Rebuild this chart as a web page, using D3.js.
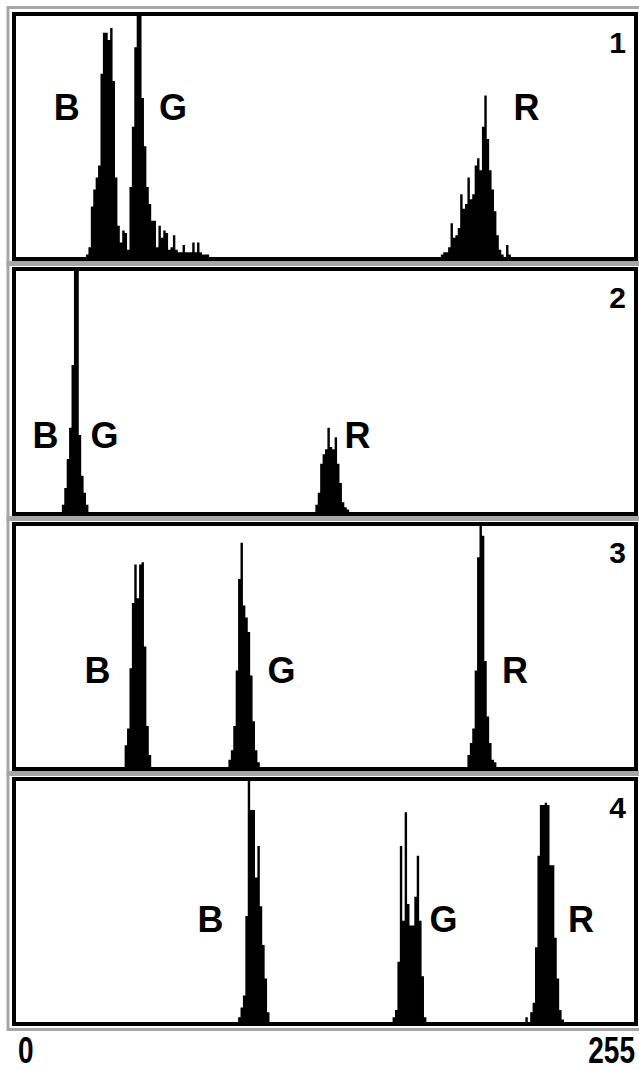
<!DOCTYPE html>
<html>
<head>
<meta charset="utf-8">
<script src="https://cdn.jsdelivr.net/npm/d3@7"></script>
<style>
body{margin:0;background:#fff;}
text{font-family:"Liberation Sans",Arial,sans-serif;font-weight:bold;fill:#000;}
</style>
</head>
<body>
<script>
// panel names
const panelNames=["1","2","3","4"];
// histogram counts (percent of panel height), first value is the start bin
const p1B=[29,[1,4,21,28,33,38,76,93,93,90,95,73,33,13,6,11,10,3,3]];
const p1G=[47,[29,54,87,110,110,66,46,29,22,15,15,4,13,8,11,10,3,4,9,3,2,2,5,2,2,2,6,2,6,2,1,1,1]];
const p1R=[176,[1,2,2,4,14,8,9,12,26,20,22,33,24,26,38,41,36,54,67,49,36,28,19,9,3,1,0,5,1]];
const p2BG=[19,[3,10,22,35,61,110,110,32,15,8,3]];
const p2R=[124,[3,8,20,24,26,35,27,26,31,20,12,4,2,1]];
const p3B=[45,[9,16,41,68,84,70,84,85,50,17,5]];
const p3G=[88,[3,7,17,40,78,93,67,62,56,38,19,7,2]];
const p3R=[187,[5,10,16,40,87,110,96,44,21,10,3,2]];
const p4B=[92,[2,6,11,44,110,88,88,60,73,48,32,18,4]];
const p4G=[156,[2,5,25,73,42,87,49,40,40,52,69,42,19,2]];
const p4R=[211,[2,0,4,8,31,69,90,90,91,90,65,65,35,18,5,1]];
const hists=[[p1B,p1G,p1R],[p2BG,p2R],[p3B,p3G,p3R],[p4B,p4G,p4R]];
// channel labels: [text, bin, level]
const labels=[
  [["B",21,57],["G",65,57],["R",211.5,57]],
  [["B",12.2,26.5],["G",36.7,26.5],["R",141.5,26.5]],
  [["B",33.8,35],["G",110,35],["R",206.7,35]],
  [["B",80.6,37.5],["G",177.1,37.5],["R",234,37.5]]
];
const xTicks=[0,255];

const w=639,h=1070;
const svg=d3.select("body").append("svg").attr("width",w).attr("height",h);

const x=d3.scaleLinear().domain([0,256]).range([16,634]);

panelNames.forEach((name,i)=>{
  const top=12+i*255;
  const y=d3.scaleLinear().domain([0,100]).range([top+245,top+4]).clamp(true);
  const g=svg.append("g");

  // gray outer frame
  g.append("rect").attr("x",8).attr("y",top-4.5).attr("width",650).attr("height",257)
    .attr("fill","none").attr("stroke","#a6a6a6").attr("stroke-width",3);

  const area=d3.area()
    .x(d=>x(d[0]))
    .y0(y(0))
    .y1(d=>y(d[1]))
    .curve(d3.curveStepAfter);

  hists[i].forEach(hs=>{
    const pts=hs[1].map((c,k)=>[hs[0]+k,c]);
    pts.push([hs[0]+hs[1].length,0]);
    g.append("path").attr("d",area(pts)).attr("fill","#000");
  });

  // black inner frame
  g.append("rect").attr("x",14).attr("y",top+2).attr("width",622).attr("height",245)
    .attr("fill","none").attr("stroke","#000").attr("stroke-width",4);

  g.selectAll(".lab").data(labels[i]).enter().append("text")
    .attr("class","lab")
    .attr("x",d=>x(d[1]))
    .attr("y",d=>y(d[2]))
    .attr("text-anchor","middle")
    .style("font-size","36px")
    .text(d=>d[0]);

  g.append("text").attr("x",626).attr("y",top+41)
    .attr("text-anchor","end").style("font-size","30px").text(name);
});

// bottom scale labels
svg.selectAll(".tick").data(xTicks).enter().append("text")
  .attr("class","tick")
  .attr("transform",(d,k)=>"translate("+(k==0?x(d)+2:x(d+1)+1)+",1063) scale(0.8,1.05)")
  .attr("text-anchor",(d,k)=>k==0?"start":"end")
  .style("font-size","35px")
  .text(d=>d);
</script>
</body>
</html>
